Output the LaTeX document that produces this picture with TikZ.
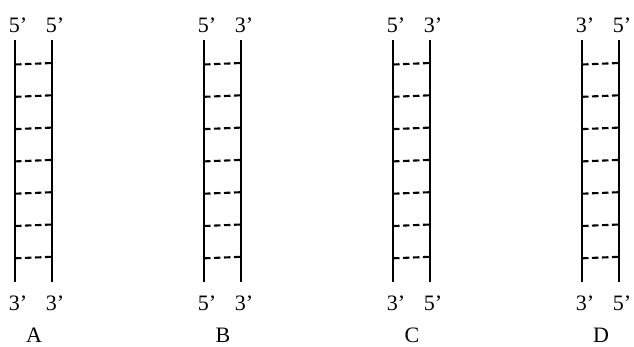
\documentclass[tikz,border=0pt]{standalone}
\usepackage{fontspec}
\setmainfont{Liberation Serif}
\begin{document}
\begin{tikzpicture}[x=1pt, y=-1pt, line join=round, font=\fontsize{22}{22}\selectfont,
  strand/.style={line width=2.6pt},
  rung/.style={line width=2.1pt, dash pattern=on 6.5pt off 3.5pt},
  end label/.style={anchor=base, inner sep=0pt}]
	\useasboundingbox (0,0) rectangle (634,346);
	\foreach \n/\x/\tl/\tr/\bl/\br in {A/15/5/5/3/3, B/204/5/3/5/3, C/393/5/3/3/5, D/582/3/5/3/5} {
		\coordinate (\n lt) at (\x,40);
		\coordinate (\n lb) at (\x,282);
		\coordinate (\n rt) at (\x+37,40);
		\coordinate (\n rb) at (\x+37,282);
		\draw[strand] (\n lt) -- (\n lb) (\n rt) -- (\n rb);
		% base pairs
		\foreach \i in {0,...,6}
			\draw[rung] ([yshift=-24.5-32.3*\i]\n lt) -- ([yshift=-23-32.3*\i]\n rt);
		\node[end label] (\n tl) at (\x+3,32) {\tl’};
		\node[end label] (\n tr) at (\x+40,32) {\tr’};
		\node[end label] (\n bl) at (\x+3,310) {\bl’};
		\node[end label] (\n br) at (\x+40,310) {\br’};
		\node[end label] (\n) at (\x+19,342) {\n};
	}
\end{tikzpicture}
\end{document}
